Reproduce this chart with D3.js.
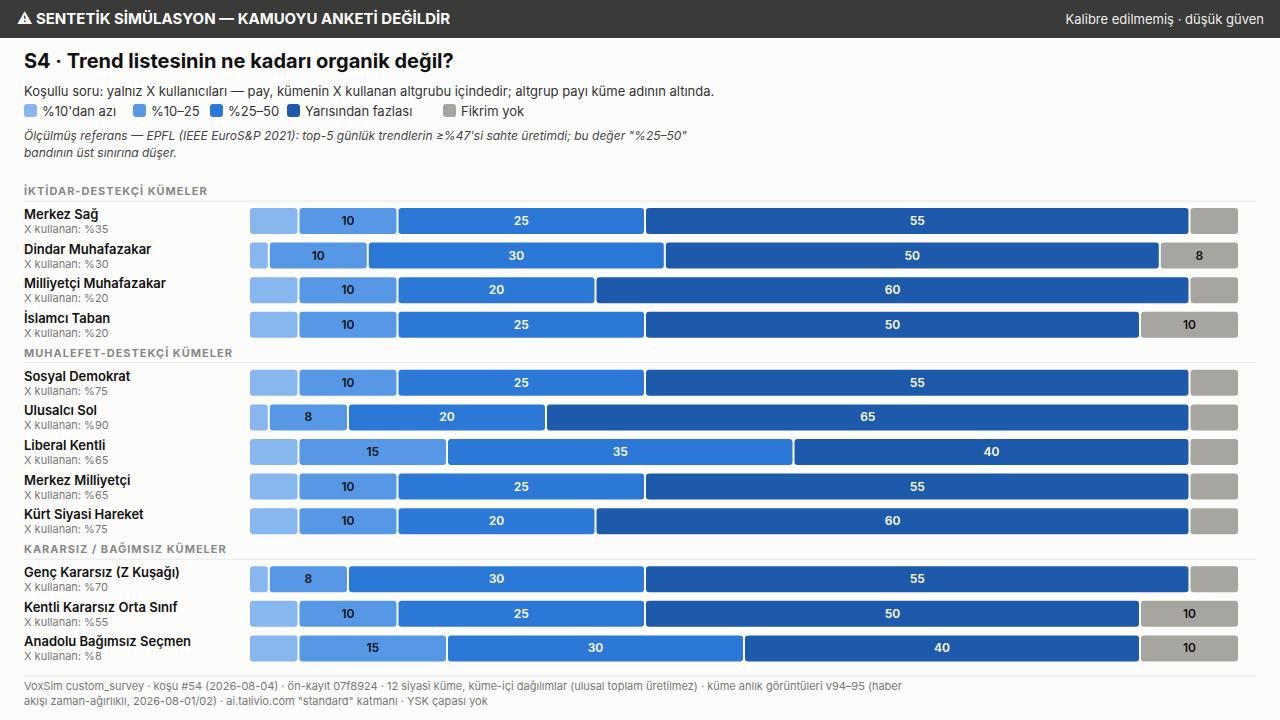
<!DOCTYPE html>
<html><head><meta charset="utf-8">
<script src="https://cdn.jsdelivr.net/npm/d3@7"></script>
<style>
body{margin:0;background:#fcfcfb;font-family:Inter,"Noto Sans",sans-serif;}
</style></head><body>
<svg id="c" width="1280" height="720"></svg>
<script>
const bands = ["%10'dan azı","%10–25","%25–50","Yarısından fazlası","Fikrim yok"];
const colors = ["#88b6ef","#5698e6","#2b78d6","#1e5aab","#a6a5a0"];
const groups = ["İKTİDAR-DESTEKÇİ KÜMELER","MUHALEFET-DESTEKÇİ KÜMELER","KARARSIZ / BAĞIMSIZ KÜMELER"];
const clusters = ["Merkez Sağ","Dindar Muhafazakar","Milliyetçi Muhafazakar","İslamcı Taban","Sosyal Demokrat","Ulusalcı Sol","Liberal Kentli","Merkez Milliyetçi","Kürt Siyasi Hareket","Genç Kararsız (Z Kuşağı)","Kentli Kararsız Orta Sınıf","Anadolu Bağımsız Seçmen"];
const clusterGroup = [0,0,0,0,1,1,1,1,1,2,2,2];
const xUsers = [35,30,20,20,75,90,65,65,75,70,55,8];
const values = [
 [5,10,25,55,5],[2,10,30,50,8],[5,10,20,60,5],[5,10,25,50,10],
 [5,10,25,55,5],[2,8,20,65,5],[5,15,35,40,5],[5,10,25,55,5],[5,10,20,60,5],
 [2,8,30,55,5],[5,10,25,50,10],[5,15,30,40,10]
];
const svg = d3.select("#c");
svg.append("rect").attr("width",1280).attr("height",38).attr("fill","#3a3a38");
svg.append("text").attr("x",17).attr("y",24).attr("fill","#fff").attr("font-size",15).attr("font-weight",700).text("⚠ SENTETİK SİMÜLASYON — KAMUOYU ANKETİ DEĞİLDİR");
svg.append("text").attr("x",1264).attr("y",24).attr("fill","#eee").attr("font-size",13).attr("text-anchor","end").text("Kalibre edilmemiş · düşük güven");
svg.append("text").attr("x",24).attr("y",68).attr("fill","#111").attr("font-size",20).attr("font-weight",700).text("S4 · Trend listesinin ne kadarı organik değil?");
svg.append("text").attr("x",24).attr("y",96).attr("fill","#333").attr("font-size",13).text("Koşullu soru: yalnız X kullanıcıları — pay, kümenin X kullanan altgrubu içindedir; altgrup payı küme adının altında.");
const legX=[24,133,210,287,443];
bands.forEach((b,i)=>{
  svg.append("rect").attr("x",legX[i]).attr("y",104).attr("width",13).attr("height",13).attr("rx",3).attr("fill",colors[i]);
  svg.append("text").attr("x",legX[i]+18).attr("y",116).attr("font-size",13).attr("fill","#333").text(b);
});
svg.append("text").attr("x",24).attr("y",140).attr("font-size",12).attr("font-style","italic").attr("fill","#444").text("Ölçülmüş referans — EPFL (IEEE EuroS&P 2021): top-5 günlük trendlerin ≥%47'si sahte üretimdi; bu değer \"%25–50\"");
svg.append("text").attr("x",24).attr("y",157).attr("font-size",12).attr("font-style","italic").attr("fill","#444").text("bandının üst sınırına düşer.");

const x = d3.scaleLinear().domain([0,100]).range([250,1240]);
const pitch=34.6, bh=26;
let y=191, prevG=-1;
const rowsY=[];
clusters.forEach((c,i)=>{
  const g=clusterGroup[i];
  if(g!==prevG){
    if(prevG>=0) y+=28;
    svg.append("text").attr("x",24).attr("y",y+4).attr("font-size",11).attr("font-weight",700).attr("letter-spacing",1).attr("fill","#888").text(groups[g]);
    svg.append("line").attr("x1",24).attr("x2",1256).attr("y1",y+10).attr("y2",y+10).attr("stroke","#e6e6e3");
    y+=30; prevG=g;
  } else y+=pitch;
  rowsY.push(y);
});
clusters.forEach((c,i)=>{
  const cy=rowsY[i];
  svg.append("text").attr("x",24).attr("y",cy-2).attr("font-size",13).attr("font-weight",600).attr("fill","#111").text(c);
  svg.append("text").attr("x",24).attr("y",cy+12).attr("font-size",11).attr("fill","#777").text("X kullanan: %"+xUsers[i]);
  let acc=0;
  values[i].forEach((v,j)=>{
    const x0=x(acc), x1=x(acc+v); acc+=v;
    svg.append("rect").attr("x",x0).attr("y",cy-bh/2).attr("width",Math.max(0,x1-x0-2)).attr("height",bh).attr("rx",3).attr("fill",colors[j]);
    if(v>=8) svg.append("text").attr("x",(x0+x1-2)/2).attr("y",cy+4).attr("text-anchor","middle").attr("font-size",12).attr("font-weight",600)
      .attr("fill",(j===2||j===3)?"#fff":"#111").text(v);
  });
});
svg.append("line").attr("x1",24).attr("x2",1256).attr("y1",676).attr("y2",676).attr("stroke","#e6e6e3");
svg.append("text").attr("x",24).attr("y",690).attr("font-size",11).attr("fill","#777").text("VoxSim custom_survey · koşu #54 (2026-08-04) · ön-kayıt 07f8924 · 12 siyasi küme, küme-içi dağılımlar (ulusal toplam üretilmez) · küme anlık görüntüleri v94–95 (haber");
svg.append("text").attr("x",24).attr("y",705).attr("font-size",11).attr("fill","#777").text("akışı zaman-ağırlıklı, 2026-08-01/02) · ai.talivio.com \"standard\" katmanı · YSK çapası yok");
</script></body></html>
